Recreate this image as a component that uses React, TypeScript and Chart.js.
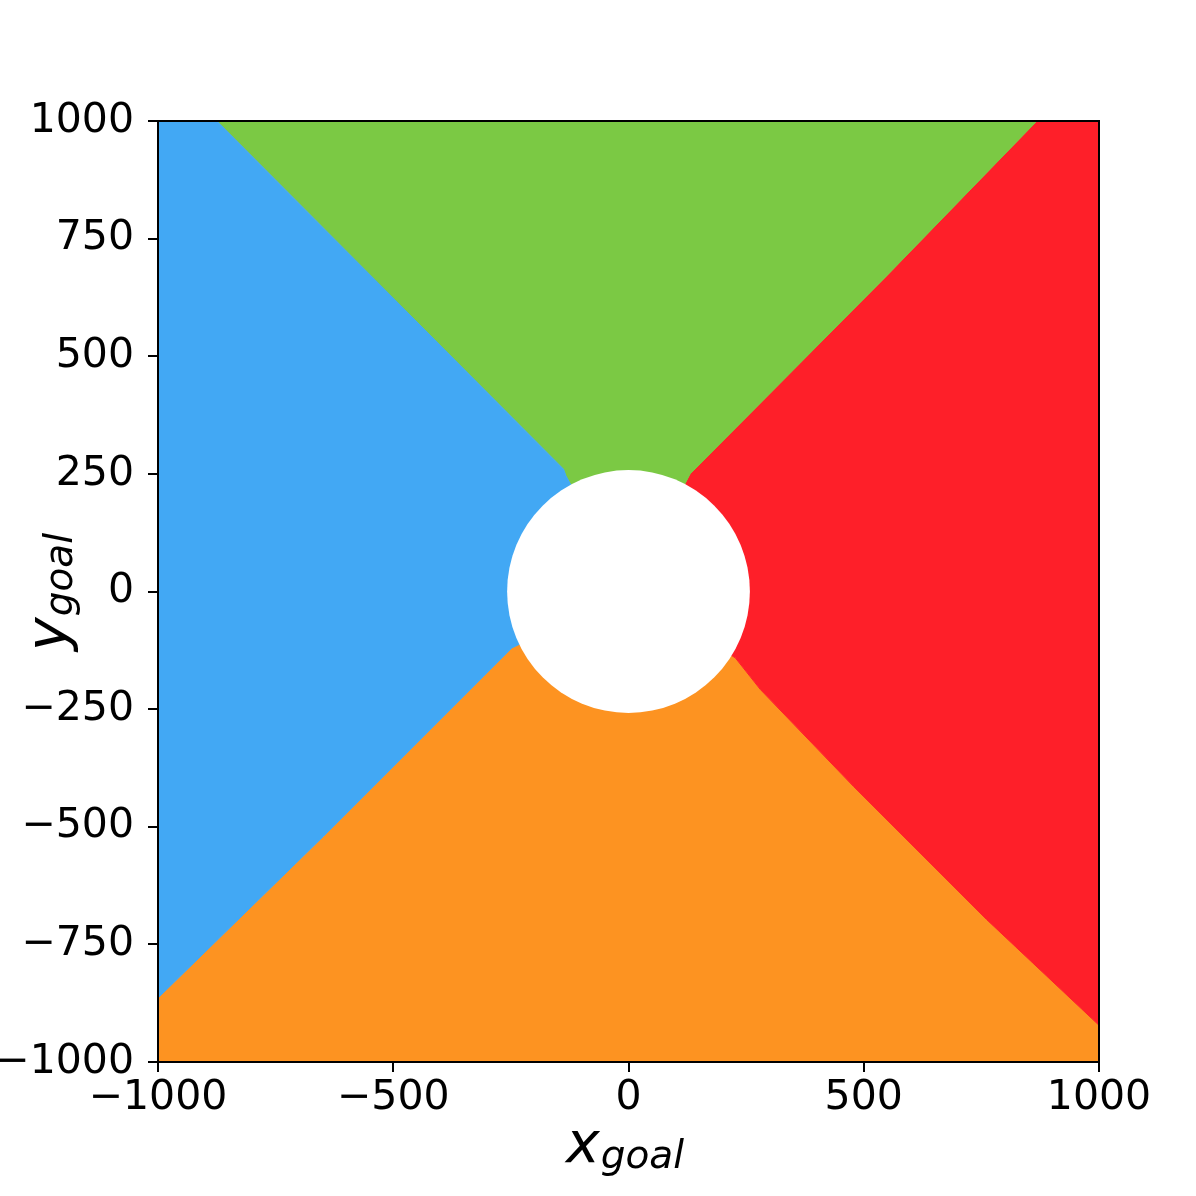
import React, { useEffect, useRef } from "react";
import { Chart, registerables } from "chart.js";

Chart.register(...registerables);

// Axis extent and ticks
const axisMin = -1000;
const axisMax = 1000;
const xTickStep = 500;
const yTickStep = 250;

// Region colours
const regionNames = ["blue", "green", "red", "orange"];
const regionColors = ["#42a8f4", "#7bc944", "#fe1f29", "#fd9321"];
const holeColor = "#ffffff";

// Decision-boundary points (data units)
const blueGreenX = [-875, -138, -133];
const blueGreenY = [1000, 260, 246];
const greenRedX = [868, 549, 131];
const greenRedY = [1000, 671, 250];
const blueOrangeX = [-1000, -648, -308, -248];
const blueOrangeY = [-864, -520, -180, -120];
const redOrangeX = [1000, 761, 478, 280, 227];
const redOrangeY = [-922, -697, -414, -208, -141];

// Unreachable central disc
const holeCenterX = [0];
const holeCenterY = [0];
const holeRadius = [258];

type P = { x: number; y: number };
const pts = (xs: number[], ys: number[]): P[] => xs.map((x, i) => ({ x, y: ys[i] }));
const center: P = { x: holeCenterX[0], y: holeCenterY[0] };

const bg = pts(blueGreenX, blueGreenY); // top edge -> circle
const gr = pts(greenRedX, greenRedY); // top edge -> circle
const bo = pts(blueOrangeX, blueOrangeY); // left edge -> circle
const ro = pts(redOrangeX, redOrangeY); // right edge -> circle
const rev = (a: P[]) => a.slice().reverse();

const polygons: P[][] = [
  // blue
  [{ x: axisMin, y: axisMax }, ...bg, center, ...rev(bo)],
  // green
  [...bg, center, ...rev(gr)],
  // red
  [...gr, center, ...rev(ro), { x: axisMax, y: axisMax }],
  // orange
  [...bo, center, ...rev(ro), { x: axisMax, y: axisMin }, { x: axisMin, y: axisMin }],
];

const fmt = (v: number) => (v < 0 ? "\u2212" + Math.abs(v) : String(v));

const FONT = '"DejaVu Sans", "Liberation Sans", sans-serif';

const labelPlugin = {
  id: "frameAndLabels",
  afterDraw(chart: any) {
    const { ctx, chartArea } = chart;
    const { left, right, top, bottom } = chartArea;
    ctx.save();
    ctx.strokeStyle = "#000";
    ctx.lineWidth = 2;
    ctx.strokeRect(left, top, right - left, bottom - top);

    const drawLabel = (main: string, sub: string) => {
      ctx.font = `italic 57px ${FONT}`;
      const w1 = ctx.measureText(main).width;
      ctx.font = `italic 39px ${FONT}`;
      const w2 = ctx.measureText(sub).width;
      const start = -(w1 + w2) / 2;
      ctx.fillStyle = "#000";
      ctx.textBaseline = "alphabetic";
      ctx.textAlign = "left";
      ctx.font = `italic 57px ${FONT}`;
      ctx.fillText(main, start, 0);
      ctx.font = `italic 39px ${FONT}`;
      ctx.fillText(sub, start + w1 + 1, 6);
    };

    // x label
    ctx.save();
    ctx.translate((left + right) / 2 - 4, 1162);
    drawLabel("x", "goal");
    ctx.restore();

    // y label
    ctx.save();
    ctx.translate(66, (top + bottom) / 2 + 1);
    ctx.rotate(-Math.PI / 2);
    drawLabel("y", "goal");
    ctx.restore();

    ctx.restore();
  },
};

export default function App() {
  const ref = useRef<HTMLCanvasElement | null>(null);

  useEffect(() => {
    if (!ref.current) return;
    Chart.defaults.font.family = FONT;

    const regionDatasets = polygons.map((poly, i) => ({
      label: regionNames[i],
      data: poly,
      showLine: true,
      fill: "shape",
      backgroundColor: regionColors[i],
      borderColor: regionColors[i],
      borderWidth: 1,
      pointRadius: 0,
      tension: 0,
      order: 1,
    }));

    const holeDataset = {
      label: "hole",
      data: pts(holeCenterX, holeCenterY),
      showLine: false,
      pointRadius: (c: any) => {
        const s = c.chart.scales.x;
        return Math.abs(s.getPixelForValue(holeRadius[0]) - s.getPixelForValue(0));
      },
      pointBackgroundColor: holeColor,
      pointBorderWidth: 0,
      pointBorderColor: holeColor,
      order: 0,
    };

    const chart = new Chart(ref.current, {
      type: "scatter",
      data: { datasets: [holeDataset as any, ...(regionDatasets as any)] },
      options: {
        animation: false,
        responsive: false,
        devicePixelRatio: 1,
        events: [],
        layout: { padding: { left: 0, top: 121, right: 97, bottom: 0 } },
        plugins: {
          legend: { display: false },
          tooltip: { enabled: false },
        },
        scales: {
          x: {
            type: "linear",
            min: axisMin,
            max: axisMax,
            afterFit: (s: any) => {
              s.height = 134;
            },
            ticks: {
              stepSize: xTickStep,
              callback: (v: any) => fmt(Number(v)),
              font: { size: 41, family: FONT },
              color: "#000",
              padding: 2,
              maxRotation: 0,
            },
            grid: {
              display: true,
              drawOnChartArea: false,
              drawTicks: true,
              tickLength: 10,
              color: "#000",
              lineWidth: 2,
            },
            border: { display: false },
          },
          y: {
            type: "linear",
            min: axisMin,
            max: axisMax,
            afterFit: (s: any) => {
              s.width = 158;
            },
            ticks: {
              stepSize: yTickStep,
              callback: (v: any) => fmt(Number(v)),
              font: { size: 41, family: FONT },
              color: "#000",
              padding: 14,
            },
            grid: {
              display: true,
              drawOnChartArea: false,
              drawTicks: true,
              tickLength: 10,
              color: "#000",
              lineWidth: 2,
            },
            border: { display: false },
          },
        },
      },
      plugins: [labelPlugin],
    });

    return () => chart.destroy();
  }, []);

  return (
    <div style={{ position: "absolute", left: 0, top: 0, width: 1196, height: 1196, background: "#fff" }}>
      <canvas ref={ref} width={1196} height={1196} style={{ width: 1196, height: 1196 }} />
    </div>
  );
}
